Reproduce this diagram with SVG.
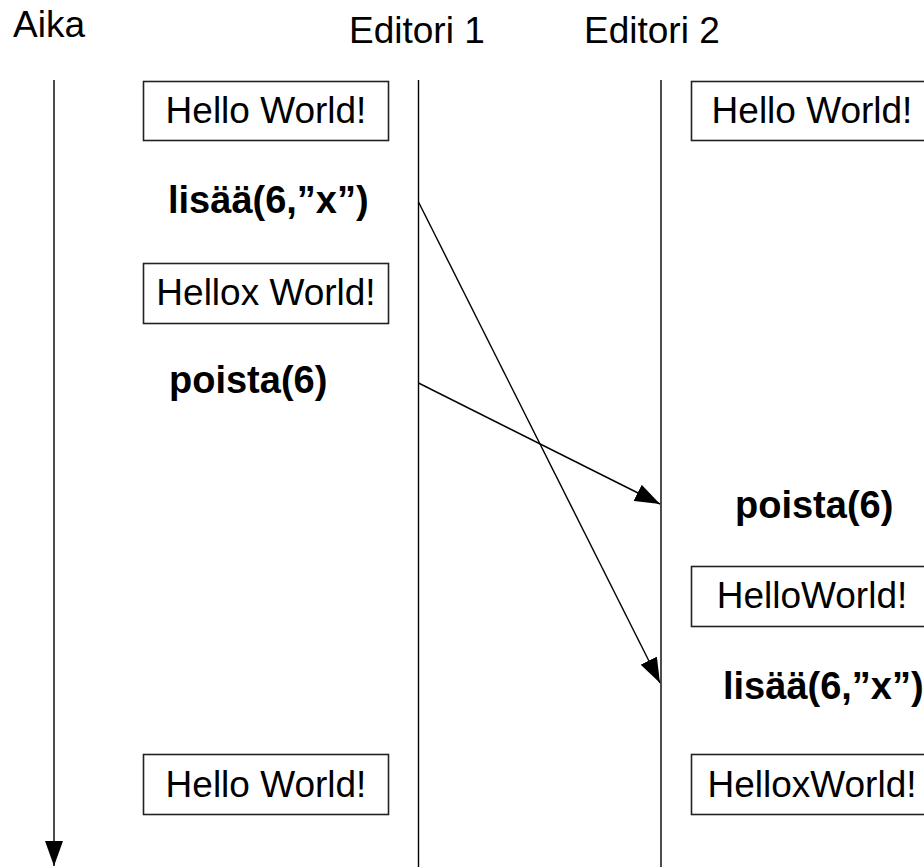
<svg xmlns="http://www.w3.org/2000/svg" width="924" height="867" viewBox="0 0 924 867">
<style>
.t{font-family:"Liberation Sans",Arial,sans-serif;font-size:37px;fill:#000}
.b{font-family:"Liberation Sans",Arial,sans-serif;font-size:38px;font-weight:bold;fill:#000}
.box{fill:#fff;stroke:#222;stroke-width:1.6}
.ln{stroke:#000;stroke-width:1.4;fill:none}
</style>
<defs>
<marker id="ah" markerUnits="userSpaceOnUse" markerWidth="26" markerHeight="18" refX="25" refY="9" orient="auto">
<path d="M0,0 L25,9 L0,18 z" fill="#000"/>
</marker>
</defs>
<rect width="924" height="867" fill="#fff"/>
<g id="headers">
<text class="t" x="13" y="37">Aika</text>
<text class="t" x="349" y="43">Editori 1</text>
<text class="t" x="584" y="43">Editori 2</text>
</g>
<g id="connectors">
<line class="ln" x1="54" y1="80" x2="54" y2="866" marker-end="url(#ah)"/>
<line class="ln" x1="418.5" y1="80" x2="418.5" y2="867"/>
<line class="ln" x1="661" y1="80" x2="661" y2="867"/>
<line class="ln" x1="418.5" y1="202" x2="660" y2="683" marker-end="url(#ah)"/>
<line class="ln" x1="418.5" y1="383" x2="660" y2="504" marker-end="url(#ah)"/>
</g>
<g id="e1-state1"><rect class="box" x="143.5" y="81.5" width="245" height="59"/><text class="t" x="266" y="123" text-anchor="middle">Hello World!</text></g>
<g id="e1-op1"><text class="b" x="168" y="213">lisää(6,”x”)</text></g>
<g id="e1-state2"><rect class="box" x="143.5" y="263.5" width="245" height="60"/><text class="t" x="266" y="305" text-anchor="middle">Hellox World!</text></g>
<g id="e1-op2"><text class="b" x="169" y="393">poista(6)</text></g>
<g id="e1-state3"><rect class="box" x="143.5" y="754.5" width="245" height="60"/><text class="t" x="266" y="797" text-anchor="middle">Hello World!</text></g>
<g id="e2-state1"><rect class="box" x="691.5" y="81.5" width="245" height="59"/><text class="t" x="812" y="123" text-anchor="middle">Hello World!</text></g>
<g id="e2-op1"><text class="b" x="735" y="518">poista(6)</text></g>
<g id="e2-state2"><rect class="box" x="691.5" y="566.5" width="245" height="60"/><text class="t" x="812" y="608" text-anchor="middle">HelloWorld!</text></g>
<g id="e2-op2"><text class="b" x="723" y="699">lisää(6,”x”)</text></g>
<g id="e2-state3"><rect class="box" x="691.5" y="754.5" width="245" height="60"/><text class="t" x="812" y="797" text-anchor="middle">HelloxWorld!</text></g>
</svg>
